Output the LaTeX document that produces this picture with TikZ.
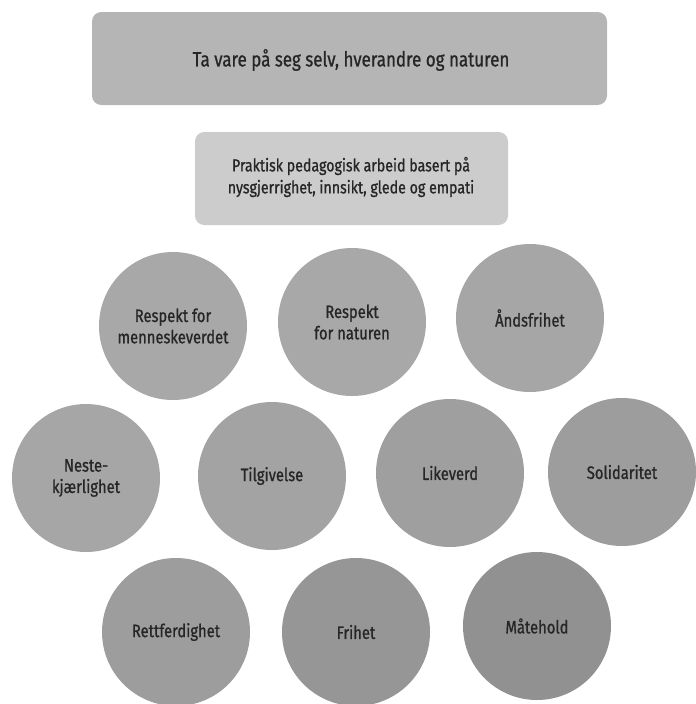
\documentclass[tikz,border=0pt]{standalone}
\usepackage{fontspec}
\setmainfont{Fira Sans}[FakeStretch=0.82, FakeBold=0.9]
\begin{document}
\begin{tikzpicture}[x=0.75pt,y=-0.75pt,
  banner/.style={rounded corners=7pt, inner sep=0pt, text=black!85},
  value/.style={circle, minimum size=111pt, inner sep=0pt, align=center,
    font=\fontsize{13.5}{16}\selectfont, text=black!85}]
  \useasboundingbox (0,0) rectangle (696,704);
  % headline boxes
  \fill[gray!58, banner] (92,12) rectangle (607,105);
  \node[font=\fontsize{15.5}{18}\selectfont, text=black!85] (goal) at (351,60)
    {Ta vare på seg selv, hverandre og naturen};
  \fill[gray!40, banner] (195,132) rectangle (508,225);
  \node[font=\fontsize{13}{16.5}\selectfont, align=center, text=black!85] (work) at (351,177)
    {Praktisk pedagogisk arbeid basert på\\nysgjerrighet, innsikt, glede og empati};
  % value circles
  \node[value, fill=gray!68] (c1) at (173,326) {Respekt for\\menneskeverdet};
  \node[value, fill=gray!68] (c2) at (352,322) {Respekt\\for naturen};
  \node[value, fill=gray!70] (c3) at (530,318) {Åndsfrihet};
  \node[value, fill=gray!70] (c4) at (86,478) {Neste-\\kjærlighet};
  \node[value, fill=gray!72] (c5) at (272,476) {Tilgivelse};
  \node[value, fill=gray!75] (c6) at (450,473) {Likeverd};
  \node[value, fill=gray!77] (c7) at (622,472) {Solidaritet};
  \node[value, fill=gray!77] (c8) at (176,632) {Rettferdighet};
  \node[value, fill=gray!82] (c9) at (356,632) {Frihet};
  \node[value, fill=gray!86] (c10) at (537,626) {Måtehold};
\end{tikzpicture}
\end{document}
